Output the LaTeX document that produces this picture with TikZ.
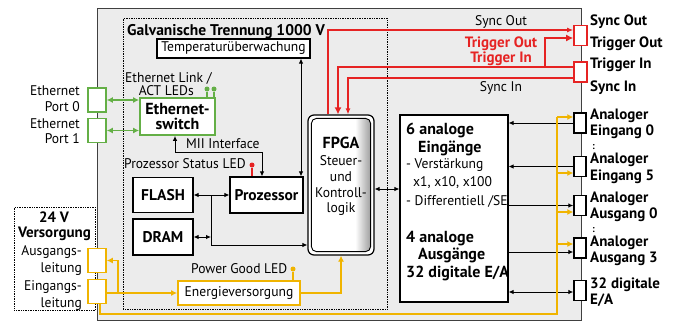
\documentclass[tikz,border=0pt]{standalone}
\usepackage{fontspec}
\setmainfont{PT Sans}[FakeStretch=0.97, BoldFeatures={FakeStretch=1.0}]
\usetikzlibrary{arrows.meta,calc}
\definecolor{myred}{RGB}{230,35,35}
\definecolor{mygreen}{RGB}{100,175,70}
\definecolor{myyellow}{RGB}{240,180,0}
\definecolor{mygray}{RGB}{236,236,236}
\pgfdeclarehorizontalshading{fpgash}{100bp}{color(0bp)=(white); color(25bp)=(white); color(62bp)=(white); color(75bp)=(black!38); color(100bp)=(black!38)}
\begin{document}
\begin{tikzpicture}[x=1pt,y=-1pt,
 txt/.style={inner sep=0pt, font=\fontsize{14}{16}\selectfont},
 btxt/.style={inner sep=0pt, font=\fontsize{15}{17}\selectfont\bfseries},
 bbig/.style={inner sep=0pt, font=\fontsize{16}{17}\selectfont\bfseries},
 box/.style={draw=black, line width=1.2pt, fill=white, inner sep=0pt, font=\fontsize{15.5}{17}\selectfont\bfseries},
 conn/.style={draw=black, line width=1.4pt, fill=white, minimum width=12pt, minimum height=20pt, inner sep=0pt},
 rconn/.style={conn, draw=myred, line width=1.6pt, minimum width=13pt},
 gconn/.style={draw=mygreen, line width=1.6pt, fill=white, minimum width=18pt, minimum height=24pt, inner sep=0pt},
 yconn/.style={gconn, draw=myyellow},
 dotbox/.style={draw=black, densely dotted, line width=0.7pt, inner sep=0pt, anchor=north west},
 led/.style={circle, inner sep=0pt, minimum size=5pt},
 arr/.style={line width=0.9pt, -{Latex[length=5pt,width=4.5pt]}},
 darr/.style={line width=0.9pt, {Latex[length=5pt,width=4.5pt]}-{Latex[length=5pt,width=4.5pt]}},
 garr/.style={draw=mygreen, line width=1.6pt, {Latex[length=6pt,width=6pt]}-{Latex[length=6pt,width=6pt]}},
 yarr/.style={draw=myyellow, line width=1.6pt, -{Latex[length=6pt,width=6pt]}},
 yline/.style={draw=myyellow, line width=1.6pt},
 rthin/.style={draw=myred, line width=1.3pt, -{Latex[length=6pt,width=5pt]}},
 rthick/.style={draw=myred, line width=2.6pt, -{Latex[length=7pt,width=7pt]}}
]
\useasboundingbox (0,0) rectangle (684,321);
% main enclosure
\node[draw=black!75, line width=1pt, fill=mygray, minimum width=484pt, minimum height=312pt, inner sep=0pt, anchor=north west] (main) at (97,8) {};
\node[dotbox, minimum width=264pt, minimum height=291pt] (galv) at (123,18) {};
\node[dotbox, minimum width=81pt, minimum height=103pt] (vers) at (14,207) {};
\node[inner sep=0pt, font=\fontsize{15.5}{17}\selectfont\bfseries, anchor=base west] (galvt) at (127,36) {Galvanische Trennung 1000 V};

% boxes
\node[box, font=\fontsize{14}{16}\selectfont, minimum width=153pt, minimum height=19pt] (temp) at (233.5,48.5) {Temperaturüberwachung};
\node[box, draw=mygreen, line width=1.8pt, align=center, font=\fontsize{16}{15}\selectfont\bfseries, minimum width=75pt, minimum height=37pt] (esw) at (177.5,116.5) {Ethernet-\\switch};
\node[box, minimum width=60pt, minimum height=35pt] (flash) at (163,195) {FLASH};
\node[box, minimum width=60pt, minimum height=36pt] (dram) at (163,237) {DRAM};
\node[box, minimum width=73pt, minimum height=36pt] (prz) at (266.5,195) {Prozessor};
\node[box, draw=myyellow, line width=1.8pt, font=\fontsize{14}{16}\selectfont, minimum width=122pt, minimum height=24pt] (energ) at (239,293) {Energieversorgung};
\node[box, minimum width=108pt, minimum height=187pt] (ana) at (454,208.5) {};

% FPGA
\node[draw=black, line width=1.2pt, fill=white, rounded corners=6pt, minimum width=66pt, minimum height=140pt, inner sep=0pt] (fpga) at (341,185) {};
\shade[rounded corners=5pt, shading=fpgash, draw=black, line width=0.9pt]
  ([xshift=4pt,yshift=-4pt]fpga.north west) rectangle ([xshift=-4pt,yshift=4pt]fpga.south east);
\node[bbig, anchor=base] (f1) at (341,148) {FPGA};
\node[txt, anchor=base] (f2) at (341,165) {Steuer-};
\node[txt, anchor=base] (f3) at (341,181) {und};
\node[txt, anchor=base] (f4) at (341,197) {Kontroll-};
\node[txt, anchor=base] (f5) at (341,212) {logik};

% analog block text
\node[bbig, anchor=base west] (a1) at (406,134) {6 analoge};
\node[bbig, anchor=base west] (a2) at (418,152) {Eingänge};
\node[txt, anchor=base west] (a3) at (406,168) {- Verstärkung};
\node[txt, anchor=base west] (a4) at (413,186) {x1, x10, x100};
\node[txt, anchor=base west] (a5) at (406,205) {- Differentiell /SE};
\node[bbig, anchor=base west] (a6) at (406,242) {4 analoge};
\node[bbig, anchor=base west] (a7) at (418,259) {Ausgänge};
\node[bbig, anchor=base west] (a8) at (406,277) {32 digitale E/A};

% connectors left
\node[gconn] (p0) at (97,100) {};
\node[gconn] (p1) at (97,130.5) {};
\node[yconn] (aus) at (97,260.5) {};
\node[yconn] (ein) at (97,291.5) {};

% left labels
\node[txt, anchor=base east] (lp0a) at (80,95) {Ethernet};
\node[txt, anchor=base east] (lp0b) at (80,111) {Port 0};
\node[txt, anchor=base east] (lp1a) at (80,128) {Ethernet};
\node[txt, anchor=base east] (lp1b) at (80,143) {Port 1};
\node[btxt, anchor=base] (v1) at (54,222) {24 V};
\node[btxt, anchor=base] (v2) at (54.5,237) {Versorgung};
\node[txt, anchor=base east] (v3) at (82,255) {Ausgangs-};
\node[txt, anchor=base east] (v4) at (82,272) {leitung};
\node[txt, anchor=base east] (v5) at (82,290) {Eingangs-};
\node[txt, anchor=base east] (v6) at (82,307) {leitung};

% inner labels
\node[txt, anchor=base west] (ell) at (125,82) {Ethernet Link /};
\node[txt, anchor=base east] (act) at (194,95) {ACT LEDs};
\node[txt, anchor=base west] (miil) at (186,148) {MII Interface};
\node[txt, anchor=base west] (psl) at (124,168) {Prozessor Status LED};
\node[txt, anchor=base west] (pgl) at (191,273) {Power Good LED};

% LEDs
\node[led, fill=mygreen] (g1) at (207,89) {};
\node[led, fill=mygreen] (g2) at (214,89) {};
\draw[draw=mygreen, line width=1.2pt] (g1) -- (g1 |- esw.north);
\draw[draw=mygreen, line width=1.2pt] (g2) -- (g2 |- esw.north);
\node[led, fill=myred] (rl) at (252,165) {};
\draw[draw=myred, line width=1.2pt] (rl) -- (rl |- prz.north);
\node[led, fill=myyellow] (yl) at (293,269) {};
\draw[draw=myyellow, line width=1.2pt] (yl) -- (yl |- energ.north);

% right connectors
\node[rconn] (so) at (580.5,35.5) {};
\node[rconn] (ti) at (580.5,72) {};
\node[conn] (ai0) at (580,123) {};
\node[conn] (ai5) at (580,166.5) {};
\node[conn] (ao0) at (580,205.5) {};
\node[conn] (ao3) at (580,248) {};
\node[conn] (dio) at (580,290.5) {};

% right labels
\node[btxt, anchor=base west] (r1) at (590,26) {Sync Out};
\node[btxt, anchor=base west] (r2) at (590,48) {Trigger Out};
\node[btxt, anchor=base west] (r3) at (590,68) {Trigger In};
\node[btxt, anchor=base west] (r4) at (590,91) {Sync In};
\node[btxt, anchor=base west] (r5) at (590,119) {Analoger};
\node[btxt, anchor=base west] (r6) at (590,135) {Eingang 0};
\node[inner sep=0pt, font=\fontsize{10}{10}\selectfont\bfseries, anchor=base west] (r7) at (592,149) {:};
\node[btxt, anchor=base west] (r8) at (590,163) {Analoger};
\node[btxt, anchor=base west] (r9) at (590,180) {Eingang 5};
\node[btxt, anchor=base west] (r10) at (590,202) {Analoger};
\node[btxt, anchor=base west] (r11) at (590,218) {Ausgang 0};
\node[inner sep=0pt, font=\fontsize{10}{10}\selectfont\bfseries, anchor=base west] (r12) at (592,232) {:};
\node[btxt, anchor=base west] (r13) at (590,246) {Analoger};
\node[btxt, anchor=base west] (r14) at (590,262) {Ausgang 3};
\node[btxt, anchor=base west] (r15) at (590,288) {32 digitale};
\node[btxt, anchor=base west] (r16) at (590,304) {E/A};

% middle signal labels
\node[txt, anchor=base] (m1) at (501,26) {Sync Out};
\node[btxt, text=myred, anchor=base] (m2) at (501,48) {Trigger Out};
\node[btxt, text=myred, anchor=base] (m3) at (501,63) {Trigger In};
\node[txt, anchor=base] (m4) at (501,91) {Sync In};

% green ethernet links
\draw[garr] (p0.east) -- (p0.east -| esw.west);
\draw[garr] (p1.east) -- (p1.east -| esw.west);

% MII
\coordinate (mii1) at (175,152);
\coordinate (mii2) at (262,152);
\draw[darr] (mii1 |- esw.south) -- (mii1) -- (mii2) -- (mii2 |- prz.north);
% temperature
\coordinate (tx) at (301,100);
\draw[darr] (tx |- temp.south) -- (tx |- prz.north);
% memory bus
\coordinate (bj) at (211,195);
\coordinate (bk) at (211,245);
\draw[darr] (flash.east) -- (prz.west);
\draw[arr] (bj) -- (bk) -- (bk -| fpga.west);
\draw[darr] (dram.east) -- (dram.east -| bj);
% FPGA - analog
\coordinate (fa) at (380,189);
\draw[darr] (fa -| fpga.east) -- (fa -| ana.west);

% analog connectors
\draw[arr] (ai0.west) -- (ai0.west -| ana.east);
\draw[arr] (ai5.west) -- (ai5.west -| ana.east);
\draw[arr] (ao0.west -| ana.east) -- (ao0.west);
\draw[arr] ([yshift=-4pt]ao3.west -| ana.east) -- ([yshift=-4pt]ao3.west);
\draw[darr] ([yshift=-1.5pt]dio.west -| ana.east) -- ([yshift=-1.5pt]dio.west);

% red sync/trigger
\coordinate (sx) at (328,30);
\draw[rthin] (sx |- fpga.north) -- (sx) -- (sx -| so.west);
\coordinate (tix) at (338,67);
\draw[rthick] (tix -| ti.west) -- (tix) -- (tix |- fpga.north);
\coordinate (tb) at (545,67);
\coordinate (tt) at (545,38);
\draw[rthick] (tb) -- (tt) -- (tt -| so.west);
\coordinate (six) at (348,78);
\draw[rthin] (six -| ti.west) -- (six) -- (six |- fpga.north);

% yellow power
\draw[yarr] (ein.east |- energ.west) -- (energ.west);
\coordinate (yb) at (118,293);
\draw[yarr] (yb) |- (aus.east);
\draw[yarr] (energ.east) -| (fpga.south);
\coordinate (ybl) at (100,314);
\coordinate (ybr) at (557,314);
\coordinate (y1) at (557,117);
\coordinate (y2) at (557,173);
\coordinate (y3) at (557,212);
\coordinate (y4) at (557,244);
\draw[yline] (ybl |- ein.south) -- (ybl) -- (ybr) -- (y1);
\draw[yarr] (y1) -- (y1 -| ai0.west);
\draw[yarr] (y2) -- (y2 -| ai5.west);
\draw[yarr] (y3) -- (y3 -| ao0.west);
\draw[yarr] (y4) -- (y4 -| ao3.west);
\end{tikzpicture}
\end{document}
